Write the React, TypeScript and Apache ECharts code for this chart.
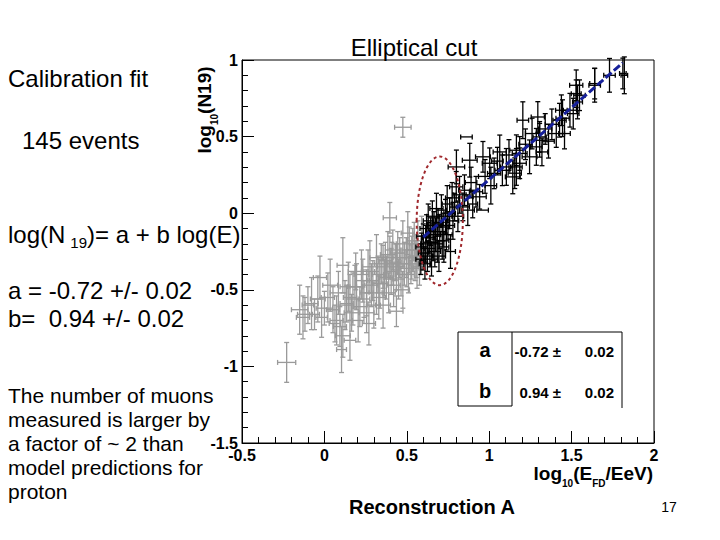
import React, { useEffect, useRef } from 'react';
import * as echarts from 'echarts';

// [x, y, xErr, yErr] — events outside the elliptical cut (gray)
const grayPoints: number[][] = [
  [-0.229, -0.974, 0.055, 0.13], [-0.15, -0.63, 0.05, 0.16], [-0.13, -0.68, 0.04, 0.14],
  [-0.118, -0.66, 0.045, 0.11], [-0.1, -0.6, 0.035, 0.12], [-0.078, -0.59, 0.04, 0.17],
  [-0.06, -0.66, 0.03, 0.1], [-0.04, -0.56, 0.045, 0.15], [-0.027, -0.42, 0.04, 0.14],
  [-0.017, -0.68, 0.035, 0.13], [0.0, -0.62, 0.05, 0.11], [0.021, -0.55, 0.04, 0.16],
  [0.035, -0.47, 0.045, 0.17], [0.052, -0.63, 0.04, 0.15], [0.064, -0.72, 0.035, 0.12],
  [0.074, -0.7, 0.04, 0.16], [0.085, -0.52, 0.05, 0.14], [0.094, -0.74, 0.04, 0.13],
  [0.104, -0.89, 0.03, 0.15], [0.112, -0.34, 0.035, 0.18], [0.112, -0.8, 0.045, 0.14],
  [0.125, -0.6, 0.04, 0.16], [0.135, -0.59, 0.04, 0.12], [0.145, -0.48, 0.05, 0.16],
  [0.155, -0.55, 0.04, 0.15], [0.155, -0.83, 0.035, 0.13], [0.165, -0.65, 0.045, 0.12],
  [0.173, -0.56, 0.04, 0.17], [0.185, -0.48, 0.045, 0.14], [0.195, -0.48, 0.04, 0.15],
  [0.205, -0.7, 0.035, 0.14], [0.215, -0.61, 0.04, 0.13], [0.225, -0.4, 0.045, 0.16],
  [0.233, -0.44, 0.04, 0.14], [0.24, -0.56, 0.035, 0.12], [0.256, -0.52, 0.04, 0.15],
  [0.256, -0.65, 0.045, 0.13], [0.265, -0.38, 0.04, 0.14], [0.276, -0.35, 0.045, 0.17],
  [0.285, -0.47, 0.04, 0.14], [0.294, -0.44, 0.035, 0.13], [0.3, -0.6, 0.04, 0.15],
  [0.316, -0.52, 0.045, 0.14], [0.316, -0.29, 0.04, 0.15], [0.325, -0.4, 0.035, 0.12],
  [0.336, -0.46, 0.045, 0.16], [0.345, -0.33, 0.04, 0.13], [0.356, -0.35, 0.04, 0.14],
  [0.356, -0.6, 0.045, 0.15], [0.365, -0.42, 0.035, 0.12], [0.376, -0.42, 0.04, 0.14],
  [0.385, -0.27, 0.045, 0.15], [0.39, -0.52, 0.04, 0.13], [0.397, -0.03, 0.04, 0.1],
  [0.397, -0.29, 0.04, 0.14], [0.405, -0.38, 0.035, 0.15], [0.415, -0.24, 0.045, 0.13],
  [0.42, -0.47, 0.04, 0.14], [0.43, -0.32, 0.035, 0.12], [0.437, -0.35, 0.04, 0.15],
  [0.437, -0.64, 0.04, 0.1], [0.445, -0.26, 0.045, 0.14], [0.457, -0.29, 0.04, 0.13],
  [0.465, -0.4, 0.035, 0.14], [0.476, -0.2, 0.04, 0.15], [0.476, 0.561, 0.05, 0.065],
  [0.476, -0.5, 0.04, 0.12], [0.485, -0.33, 0.035, 0.14], [0.497, -0.29, 0.04, 0.13],
  [0.506, -0.13, 0.04, 0.14], [0.51, -0.4, 0.035, 0.12], [0.515, -0.24, 0.045, 0.15],
  [0.525, -0.33, 0.04, 0.13], [0.536, -0.24, 0.035, 0.14], [0.545, -0.18, 0.04, 0.12],
  [0.557, -0.28, 0.04, 0.14], [0.562, -0.36, 0.035, 0.13], [0.567, -0.2, 0.04, 0.15],
  [0.577, -0.35, 0.035, 0.12], [0.585, -0.26, 0.03, 0.11], [0.59, -0.15, 0.035, 0.13],
  [0.27, -0.72, 0.04, 0.14], [0.19, -0.38, 0.045, 0.12], [0.33, -0.55, 0.04, 0.14],
  [0.45, -0.43, 0.035, 0.13], [0.5, -0.36, 0.04, 0.12], [0.53, -0.29, 0.035, 0.14],
  [0.55, -0.31, 0.04, 0.13], [0.41, -0.33, 0.035, 0.14], [0.37, -0.31, 0.04, 0.12],
];

// [x, y, xErr, yErr] — selected events (black)
const blackPoints: number[][] = [
  [0.585, -0.3, 0.03, 0.1], [0.59, -0.22, 0.035, 0.09], [0.6, -0.26, 0.03, 0.11],
  [0.6, -0.15, 0.04, 0.08], [0.61, -0.33, 0.035, 0.1], [0.615, -0.2, 0.03, 0.12],
  [0.62, -0.1, 0.04, 0.09], [0.625, -0.28, 0.035, 0.1], [0.63, -0.05, 0.03, 0.11],
  [0.635, -0.16, 0.04, 0.1], [0.64, -0.23, 0.035, 0.12], [0.645, -0.12, 0.03, 0.09],
  [0.65, -0.3, 0.04, 0.11], [0.655, -0.02, 0.035, 0.1], [0.66, -0.19, 0.03, 0.12],
  [0.665, -0.08, 0.04, 0.09], [0.67, -0.25, 0.035, 0.1], [0.675, -0.14, 0.03, 0.11],
  [0.68, 0.03, 0.04, 0.1], [0.685, -0.2, 0.035, 0.12], [0.69, -0.06, 0.03, 0.09],
  [0.695, -0.28, 0.04, 0.1], [0.7, -0.12, 0.035, 0.11], [0.71, 0.02, 0.03, 0.1],
  [0.715, -0.18, 0.04, 0.12], [0.72, -0.09, 0.035, 0.09], [0.725, -0.22, 0.03, 0.1],
  [0.735, -0.02, 0.04, 0.11], [0.74, -0.14, 0.035, 0.1], [0.745, 0.06, 0.03, 0.12],
  [0.75, -0.08, 0.04, 0.09], [0.76, 0.0, 0.035, 0.1], [0.765, -0.25, 0.03, 0.11],
  [0.775, 0.1, 0.04, 0.1], [0.78, -0.05, 0.035, 0.12], [0.79, 0.04, 0.03, 0.09],
  [0.8, 0.172, 0.04, 0.1], [0.801, 0.302, 0.05, 0.11], [0.81, -0.02, 0.035, 0.1],
  [0.82, 0.12, 0.04, 0.12], [0.84, 0.041, 0.04, 0.09], [0.85, 0.15, 0.035, 0.1],
  [0.862, 0.498, 0.035, 0.0], [0.87, 0.02, 0.04, 0.1], [0.882, 0.346, 0.045, 0.11],
  [0.89, 0.2, 0.035, 0.1], [0.9, 0.06, 0.03, 0.09], [0.92, 0.14, 0.04, 0.1],
  [0.942, 0.107, 0.04, 0.08], [0.96, 0.02, 0.035, 0.0], [0.962, 0.368, 0.045, 0.1],
  [0.975, 0.24, 0.04, 0.11], [1.003, 0.326, 0.045, 0.1], [1.01, 0.18, 0.035, 0.12],
  [1.03, 0.26, 0.04, 0.1], [1.05, 0.34, 0.035, 0.09], [1.064, 0.4, 0.04, 0.11],
  [1.08, 0.28, 0.045, 0.1], [1.104, 0.302, 0.035, 0.12], [1.12, 0.38, 0.04, 0.1],
  [1.143, 0.237, 0.045, 0.11], [1.155, 0.261, 0.04, 0.1], [1.165, 0.302, 0.035, 0.12],
  [1.165, 0.411, 0.04, 0.1], [1.185, 0.39, 0.045, 0.11], [1.185, 0.326, 0.04, 0.1],
  [1.204, 0.607, 0.035, 0.12], [1.22, 0.45, 0.04, 0.1], [1.245, 0.368, 0.045, 0.11],
  [1.26, 0.52, 0.04, 0.1], [1.286, 0.433, 0.035, 0.12], [1.295, 0.628, 0.04, 0.1],
  [1.306, 0.476, 0.045, 0.11], [1.306, 0.498, 0.04, 0.1], [1.32, 0.4, 0.035, 0.09],
  [1.34, 0.55, 0.04, 0.1], [1.36, 0.47, 0.035, 0.11], [1.38, 0.58, 0.04, 0.1],
  [1.407, 0.52, 0.05, 0.09], [1.427, 0.607, 0.04, 0.11], [1.438, 0.672, 0.035, 0.1],
  [1.445, 0.62, 0.04, 0.12], [1.457, 0.52, 0.035, 0.1], [1.49, 0.672, 0.04, 0.11],
  [1.51, 0.65, 0.035, 0.1], [1.528, 0.78, 0.03, 0.09], [1.528, 0.835, 0.04, 0.1],
  [1.536, 0.726, 0.03, 0.11], [1.548, 0.77, 0.035, 0.1], [1.64, 0.835, 0.035, 0.11],
  [1.64, 0.846, 0.03, 0.1], [1.73, 0.9, 0.035, 0.11], [1.811, 0.912, 0.02, 0.1],
  [1.82, 0.9, 0.02, 0.12],
];

// Fit line endpoints (a = -0.72, b = 0.94)
const fitLine: number[][] = [[0.6, -0.156], [1.81, 0.981]];

// Elliptical cut: center and semi-axes in data units
const ellipseCenter = [0.7, -0.05];
const ellipseRadii = [0.14, 0.42];

const leftTexts = ['Calibration fit', '145 events', 'a = -0.72 +/- 0.02', 'b=  0.94 +/- 0.02'];
const noteLines = [
  'The number of muons',
  'measured is larger by',
  'a factor of ~ 2 than',
  'model predictions for',
  'proton',
];
const tableRows = [
  { name: 'a', value: '-0.72 \u00b1', err: '0.02' },
  { name: 'b', value: '0.94 \u00b1', err: '0.02' },
];

const FONT = 'Liberation Sans, Arial, Helvetica, sans-serif';

function errorBars(color: string) {
  return (params: any, api: any) => {
    const x = api.value(0);
    const y = api.value(1);
    const ex = api.value(2);
    const ey = api.value(3);
    const c = api.coord([x, y]);
    const l = api.coord([x - ex, y]);
    const r = api.coord([x + ex, y]);
    const t = api.coord([x, y + ey]);
    const b = api.coord([x, y - ey]);
    const cap = 2.5;
    const style = { stroke: color, lineWidth: 1.3 };
    const children: any[] = [
      { type: 'line', shape: { x1: l[0], y1: c[1], x2: r[0], y2: c[1] }, style },
      { type: 'line', shape: { x1: l[0], y1: c[1] - cap, x2: l[0], y2: c[1] + cap }, style },
      { type: 'line', shape: { x1: r[0], y1: c[1] - cap, x2: r[0], y2: c[1] + cap }, style },
    ];
    if (ey > 0.005) {
      children.push(
        { type: 'line', shape: { x1: c[0], y1: t[1], x2: c[0], y2: b[1] }, style },
        { type: 'line', shape: { x1: c[0] - cap, y1: t[1], x2: c[0] + cap, y2: t[1] }, style },
        { type: 'line', shape: { x1: c[0] - cap, y1: b[1], x2: c[0] + cap, y2: b[1] }, style }
      );
    }
    return { type: 'group', children };
  };
}

export default function App() {
  const ref = useRef<HTMLDivElement>(null);
  useEffect(() => {
    const chart = echarts.init(ref.current!, null, { renderer: 'svg' });
    const axisCommon = {
      type: 'value',
      axisLine: { show: true, onZero: false, lineStyle: { color: '#000', width: 1 } },
      axisTick: { show: true, inside: true, length: 12, lineStyle: { color: '#000', width: 1 } },
      minorTick: { show: true, splitNumber: 5, length: 6, lineStyle: { color: '#000', width: 1 } },
      splitLine: { show: false },
      minorSplitLine: { show: false },
      axisLabel: { color: '#000', fontSize: 16, fontWeight: 'bold', fontFamily: FONT },
    };
    chart.setOption({
      animation: false,
      backgroundColor: '#fff',
      grid: {
        left: 242, top: 60, width: 412, height: 383,
        show: true, borderColor: '#000', borderWidth: 1,
        containLabel: false, outerBoundsMode: 'none',
      },
      xAxis: {
        ...axisCommon, min: -0.5, max: 2, interval: 0.5,
        axisLabel: { ...axisCommon.axisLabel, margin: 4 },
      },
      yAxis: {
        ...axisCommon, min: -1.5, max: 1, interval: 0.5,
        axisLabel: { ...axisCommon.axisLabel, margin: 4 },
      },
      series: [
        {
          type: 'custom', name: 'outside', data: grayPoints, renderItem: errorBars('#9a9a9a'),
          encode: { x: 0, y: 1 }, clip: false, silent: true,
        },
        {
          type: 'custom', name: 'selected', data: blackPoints, renderItem: errorBars('#000000'),
          encode: { x: 0, y: 1 }, clip: false, silent: true,
        },
        {
          type: 'line', data: fitLine, symbol: 'none', silent: true,
          lineStyle: { color: '#16209a', width: 3, type: [8, 3] }, z: 5,
        },
      ],
    });

    const pc = chart.convertToPixel({ gridIndex: 0 }, ellipseCenter) as number[];
    const pr = chart.convertToPixel({ gridIndex: 0 }, [ellipseCenter[0] + ellipseRadii[0], ellipseCenter[1] + ellipseRadii[1]]) as number[];
    const rx = Math.abs(pr[0] - pc[0]);
    const ry = Math.abs(pc[1] - pr[1]);

    const txt = (x: number, y: number, text: string, size: number, opts: any = {}) => ({
      type: 'text', x, y, z: 10,
      style: {
        text, fontSize: size, fontFamily: FONT, fill: '#000',
        align: opts.align || 'left', verticalAlign: 'middle', fontWeight: opts.weight || 'normal',
      },
    });

    const graphic: any[] = [
      {
        type: 'ellipse', z: 6, shape: { cx: pc[0], cy: pc[1], rx, ry },
        style: { fill: 'none', stroke: '#a0282d', lineWidth: 2, lineDash: [3, 3] },
      },
      txt(414, 47, 'Elliptical cut', 24, { align: 'center' }),
      txt(8, 78, leftTexts[0], 24),
      txt(22, 140, leftTexts[1], 24),
      {
        type: 'text', x: 8, y: 236, z: 10,
        style: {
          text: '{m|log(N}{s|19}{m|)= a + b log(E)}',
          align: 'left', verticalAlign: 'middle',
          rich: {
            m: { fontSize: 24, fontFamily: FONT, fill: '#000', verticalAlign: 'bottom', padding: [0, 0, 4, 0] },
            s: { fontSize: 15, fontFamily: FONT, fill: '#000', verticalAlign: 'bottom', padding: [0, 0, 0, 5] },
          },
        },
      },
      txt(8, 290, leftTexts[2], 24),
      txt(8, 318.5, leftTexts[3], 24),
      ...noteLines.map((line, i) => txt(8, 395 + i * 24, line, 21)),
      txt(432, 507, 'Reconstruction A', 20, { align: 'center', weight: 'bold' }),
      txt(669, 507, '17', 14, { align: 'center' }),
      // y-axis title
      {
        type: 'text', x: 207, y: 110, rotation: Math.PI / 2, z: 10,
        style: {
          text: '{m|log}{s|10}{m|(N19)}',
          align: 'center', verticalAlign: 'middle',
          rich: {
            m: { fontSize: 19, fontWeight: 'bold', fontFamily: FONT, fill: '#000', verticalAlign: 'bottom', padding: [0, 0, 5, 0] },
            s: { fontSize: 10, fontWeight: 'bold', fontFamily: FONT, fill: '#000', verticalAlign: 'bottom' },
          },
        },
      },
      // x-axis title
      {
        type: 'text', x: 653, y: 476, z: 10,
        style: {
          text: '{m|log}{s|10}{m|(E}{s|FD}{m|/EeV)}',
          align: 'right', verticalAlign: 'middle',
          rich: {
            m: { fontSize: 19, fontWeight: 'bold', fontFamily: FONT, fill: '#000', verticalAlign: 'bottom', padding: [0, 0, 5, 0] },
            s: { fontSize: 10, fontWeight: 'bold', fontFamily: FONT, fill: '#000', verticalAlign: 'bottom' },
          },
        },
      },
      // fit parameter table
      {
        type: 'rect', z: 8, shape: { x: 458, y: 332, width: 54, height: 74 },
        style: { fill: '#fff', stroke: '#000', lineWidth: 1 },
      },
      { type: 'line', z: 8, shape: { x1: 512, y1: 332, x2: 622, y2: 332 }, style: { stroke: '#000', lineWidth: 1 } },
      { type: 'line', z: 8, shape: { x1: 622, y1: 332, x2: 622, y2: 408 }, style: { stroke: '#000', lineWidth: 1 } },
      ...tableRows.flatMap((row, i) => {
        const y = i === 0 ? 350 : 391;
        return [
          txt(485, y, row.name, 20, { align: 'center', weight: 'bold' }),
          txt(561, y + 1, row.value, 15, { align: 'right', weight: 'bold' }),
          txt(614, y + 1, row.err, 15, { align: 'right', weight: 'bold' }),
        ];
      }),
    ];
    chart.setOption({ graphic });
    return () => chart.dispose();
  }, []);
  return (
    <div
      ref={ref}
      style={{ position: 'fixed', left: 0, top: 0, width: 720, height: 540, background: '#fff' }}
    />
  );
}
